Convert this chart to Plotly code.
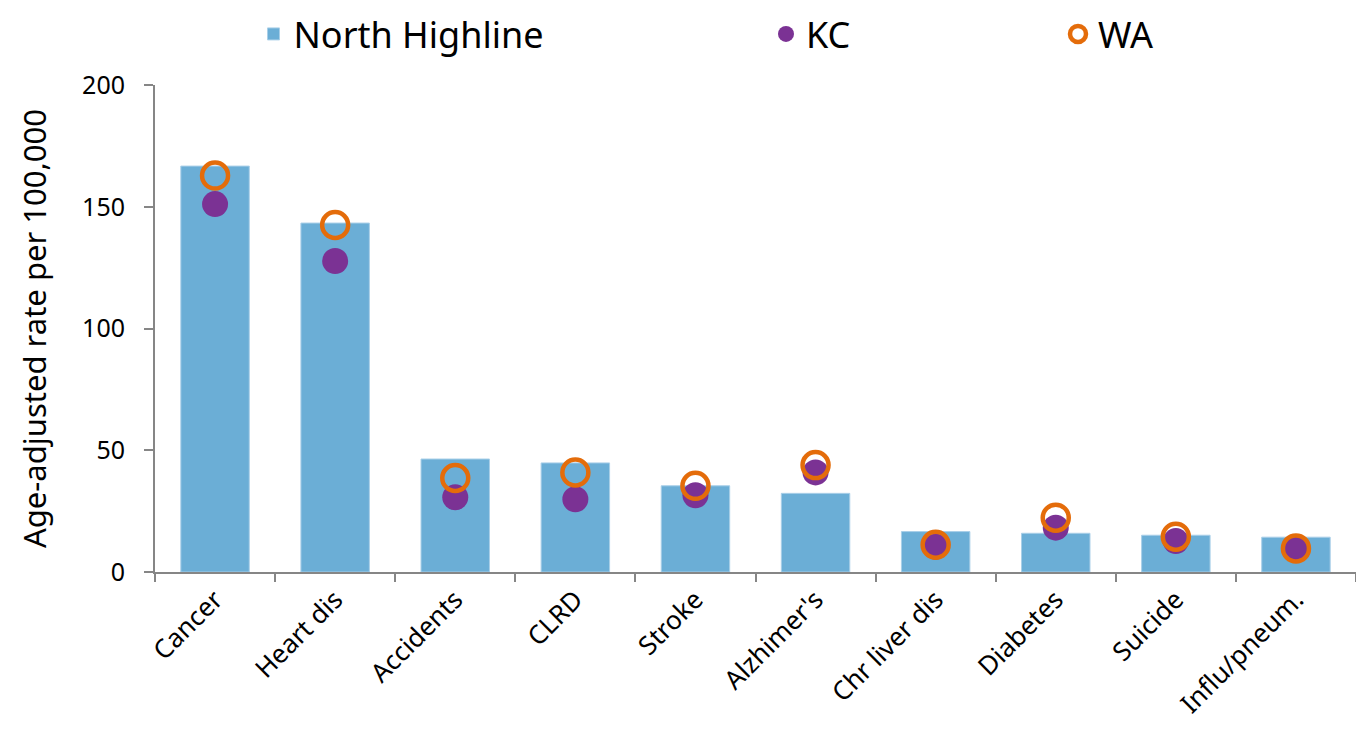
import plotly.graph_objects as go

categories = ["Cancer", "Heart dis", "Accidents", "CLRD", "Stroke", "Alzhimer's",
              "Chr liver dis", "Diabetes", "Suicide", "Influ/pneum."]
north_highline = [166.7, 143.3, 46.4, 44.8, 35.4, 32.3, 16.6, 15.9, 15.1, 14.3]
kc = [151.1, 127.7, 30.7, 29.9, 31.5, 40.9, 10.4, 18.2, 12.7, 9.7]
wa = [162.8, 142.5, 38.6, 40.9, 35.4, 43.9, 11.2, 22.3, 14.5, 9.7]
y_ticks = [0, 50, 100, 150, 200]

FONT = "Noto Sans"
# page body has an 8px margin; figure sized to fit the 1364x732 window exactly
W, H = 1348, 716
L, R, T, B = 147, 0, 77, 152
PW = W - L - R
PH = H - T - B

fig = go.Figure()
fig.add_trace(go.Bar(x=categories, y=north_highline, name="North Highline",
                     marker=dict(color="#6BAED6", line=dict(width=1, color="#A9CFE8")),
                     width=0.57, legend="legend"))
fig.add_trace(go.Scatter(x=categories, y=kc, name="KC", mode="markers",
                         marker=dict(color="#7B3294", size=26, line=dict(width=0)),
                         legend="legend2"))
fig.add_trace(go.Scatter(x=categories, y=wa, name="WA", mode="markers",
                         marker=dict(color="rgba(0,0,0,0)", size=26, symbol="circle",
                                     line=dict(color="#E46C0A", width=4.5)),
                         legend="legend3"))

leg_y = 1 + (T - 26) / PH
leg_common = dict(font=dict(family=FONT, size=36, color="#000000"),
                  bgcolor="rgba(0,0,0,0)", yanchor="middle", xanchor="left",
                  xref="paper", yref="paper", itemwidth=30, y=leg_y)
fig.update_layout(
    width=W, height=H,
    showlegend=True,
    margin=dict(l=L, r=R, t=T, b=B, autoexpand=False),
    paper_bgcolor="white", plot_bgcolor="white",
    font=dict(family=FONT, color="#000000"),
    legend=dict(x=(245.5 - L) / PW, **leg_common),
    legend2=dict(x=(758 - L) / PW, **leg_common),
    legend3=dict(x=(1050 - L) / PW, **leg_common),
    xaxis=dict(range=[-0.5, len(categories) - 0.5],
               showline=True, linecolor="#868686", linewidth=2, ticks="outside",
               tickson="boundaries", ticklen=8, tickcolor="#868686", tickwidth=1.5,
               tickangle=-45, tickfont=dict(family=FONT, size=26, color="#000000"),
               showgrid=False, automargin=False),
    yaxis=dict(range=[0, 200], tickvals=y_ticks, showline=True, linecolor="#868686",
               linewidth=2, ticks="outside", ticklen=9, tickcolor="#868686", tickwidth=1.5,
               ticklabelstandoff=14,
               tickfont=dict(family=FONT, size=25, color="#000000"), showgrid=False,
               zeroline=False, automargin=False,
               title=dict(text="Age-adjusted rate per 100,000",
                          font=dict(family=FONT, size=31, color="#000000"), standoff=26)),
)
fig.write_html("out.html")
